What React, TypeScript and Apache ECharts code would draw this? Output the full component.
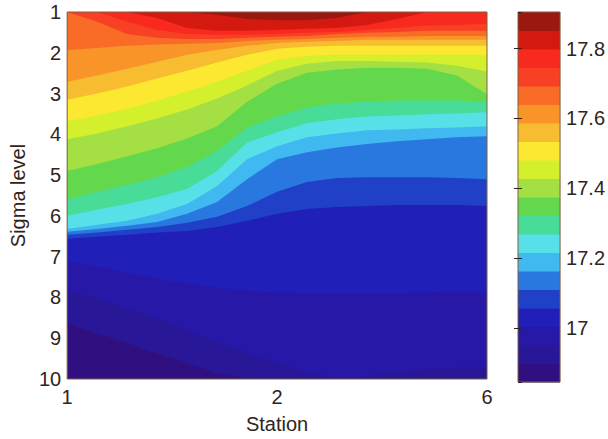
import React, { useEffect, useRef } from 'react';
import * as echarts from 'echarts';

// ---- axis ticks ----
const stationTickValues = [0, 7, 14];
const stationTickLabels = ['1', '2', '6'];
const columnX = [0, 1, 2, 3, 4, 5, 6, 7, 8, 9, 10, 11, 12, 13, 14];

// ---- contour levels (temperature) and band colours (jet) ----
const levelEdges = [
  16.845, 16.898, 16.951, 17.004, 17.057, 17.11, 17.163, 17.216, 17.269, 17.322, 17.375,
  17.428, 17.481, 17.534, 17.587, 17.64, 17.693, 17.746, 17.799, 17.852, 17.905,
];
const bandColors = [
  '#301080', '#281898', '#2818a8', '#2020b8', '#2040c8', '#2878e0', '#40b8f0', '#58e0e8',
  '#48dc98', '#64d84c', '#a4e044', '#d4f02c', '#fce830', '#f8bc30', '#f89428', '#f86c28',
  '#f84024', '#f82a20', '#d41a10', '#9a1810',
];

// ---- isotherm depths (sigma level) for each level edge, per column ----
const isoL1 = [8.63, 8.88, 9.12, 9.37, 9.61, 9.85, 10, 10, 10, 10, 10, 10, 10, 10, 10];
const isoL2 = [7.85, 8.02, 8.27, 8.51, 8.8, 9.1, 9.37, 9.61, 9.85, 9.98, 9.93, 9.83, 9.76, 9.73, 9.71];
const isoL3 = [7.12, 7.24, 7.39, 7.54, 7.66, 7.76, 7.83, 7.88, 7.9, 7.9, 7.9, 7.9, 7.88, 7.85, 7.85];
const isoL4 = [6.56, 6.51, 6.46, 6.41, 6.37, 6.27, 6.12, 5.95, 5.83, 5.78, 5.76, 5.73, 5.73, 5.73, 5.76];
const isoL5 = [6.46, 6.41, 6.34, 6.27, 6.17, 6.02, 5.76, 5.41, 5.17, 5.07, 5.05, 5.05, 5.05, 5.07, 5.1];
const isoL6 = [6.39, 6.32, 6.24, 6.15, 5.95, 5.66, 5.1, 4.61, 4.44, 4.32, 4.24, 4.17, 4.12, 4.07, 4.05];
const isoL7 = [6.32, 6.22, 6.12, 5.95, 5.71, 5.27, 4.61, 4.29, 4.07, 3.98, 3.9, 3.88, 3.85, 3.83, 3.8];
const isoL8 = [6.0, 5.85, 5.71, 5.54, 5.34, 4.9, 4.2, 3.95, 3.73, 3.63, 3.56, 3.54, 3.51, 3.49, 3.46];
const isoL9 = [5.59, 5.41, 5.24, 5.05, 4.8, 4.41, 3.83, 3.56, 3.34, 3.24, 3.2, 3.17, 3.17, 3.17, 3.2];
const isoL10 = [4.9, 4.73, 4.54, 4.34, 4.1, 3.8, 3.2, 2.76, 2.49, 2.41, 2.37, 2.37, 2.39, 2.56, 3.02];
const isoL11 = [4.12, 3.98, 3.8, 3.61, 3.39, 3.12, 2.8, 2.44, 2.27, 2.2, 2.2, 2.22, 2.24, 2.32, 2.46];
const isoL12 = [3.68, 3.54, 3.37, 3.17, 2.95, 2.71, 2.44, 2.17, 2.07, 2.05, 2.05, 2.05, 2.05, 2.05, 2.05];
const isoL13 = [3.15, 3.0, 2.83, 2.63, 2.44, 2.24, 2.05, 1.9, 1.85, 1.83, 1.83, 1.83, 1.83, 1.83, 1.83];
const isoL14 = [2.71, 2.56, 2.39, 2.22, 2.05, 1.93, 1.83, 1.76, 1.73, 1.71, 1.68, 1.68, 1.68, 1.68, 1.68];
const isoL15 = [1.93, 1.88, 1.83, 1.8, 1.78, 1.76, 1.71, 1.68, 1.66, 1.63, 1.61, 1.61, 1.59, 1.59, 1.59];
const isoL16 = [1.0, 1.24, 1.54, 1.63, 1.66, 1.66, 1.63, 1.61, 1.59, 1.54, 1.51, 1.49, 1.46, 1.46, 1.46];
const isoL17 = [1.0, 1.0, 1.24, 1.44, 1.54, 1.56, 1.56, 1.54, 1.51, 1.49, 1.44, 1.39, 1.34, 1.32, 1.29];
const isoL18 = [1.0, 1.0, 1.0, 1.15, 1.39, 1.46, 1.46, 1.44, 1.41, 1.39, 1.32, 1.17, 1.0, 1.0, 1.0];
const isoL19 = [1.0, 1.0, 1.0, 1.0, 1.0, 1.07, 1.17, 1.2, 1.2, 1.15, 1.0, 1.0, 1.0, 1.0, 1.0];

const isoDepths = [
  isoL1, isoL2, isoL3, isoL4, isoL5, isoL6, isoL7, isoL8, isoL9, isoL10,
  isoL11, isoL12, isoL13, isoL14, isoL15, isoL16, isoL17, isoL18, isoL19,
];

const FONT = '"Liberation Sans", Arial, Helvetica, sans-serif';
const TEXT = '#30241a';
const FRAME = '#7d6040';

export default function App() {
  const ref = useRef<HTMLDivElement>(null);

  useEffect(() => {
    if (!ref.current) return;
    const chart = echarts.init(ref.current, undefined, { renderer: 'svg' });

    const xMin = columnX[0];
    const xMax = columnX[columnX.length - 1];
    const bandData = bandColors.map((_, k) => [k, (levelEdges[k] + levelEdges[k + 1]) / 2]);

    const option: any = {
      animation: false,
      backgroundColor: '#ffffff',
      textStyle: { fontFamily: FONT, color: TEXT },
      grid: [
        { left: 67, top: 12, width: 420, height: 369, show: true, borderColor: FRAME, borderWidth: 1, backgroundColor: 'transparent', z: 10 },
        { left: 518, top: 12, width: 43, height: 370, show: true, borderColor: FRAME, borderWidth: 1, backgroundColor: 'transparent', z: 10 },
      ],
      visualMap: {
        type: 'piecewise',
        show: false,
        dimension: 1,
        seriesIndex: [0, 1],
        pieces: bandColors.map((c, k) => ({ gte: levelEdges[k], lt: levelEdges[k + 1], color: c })),
      },
      xAxis: [
        {
          gridIndex: 0,
          type: 'value',
          min: xMin,
          max: xMax,
          interval: 7,
          name: 'Station',
          nameLocation: 'middle',
          nameGap: 35,
          nameTextStyle: { fontSize: 20, color: TEXT, fontFamily: FONT },
          axisLine: { show: false },
          axisTick: { show: false },
          splitLine: { show: false },
          axisLabel: {
            fontSize: 20,
            color: TEXT,
            fontFamily: FONT,
            margin: 8,
            formatter: (v: number) => {
              const i = stationTickValues.indexOf(v);
              return i >= 0 ? stationTickLabels[i] : '';
            },
          },
        },
        { gridIndex: 1, type: 'value', min: 0, max: 1, show: false },
      ],
      yAxis: [
        {
          gridIndex: 0,
          type: 'value',
          inverse: true,
          min: 1,
          max: 10,
          interval: 1,
          name: 'Sigma level',
          nameLocation: 'middle',
          nameGap: 33,
          nameTextStyle: { fontSize: 20, color: TEXT, fontFamily: FONT },
          axisLine: { show: false },
          axisTick: { show: false },
          splitLine: { show: false },
          axisLabel: { fontSize: 20, color: TEXT, fontFamily: FONT, margin: 6 },
        },
        {
          gridIndex: 1,
          type: 'value',
          position: 'right',
          min: levelEdges[0],
          max: levelEdges[levelEdges.length - 1],
          splitNumber: 5,
          axisLine: { show: false },
          splitLine: { show: false },
          axisTick: { show: true, inside: true, length: 4, lineStyle: { color: TEXT } },
          axisLabel: { fontSize: 20, color: TEXT, fontFamily: FONT, margin: 6, showMinLabel: false, showMaxLabel: false },
          z: 12,
        },
        {
          gridIndex: 1,
          type: 'value',
          position: 'left',
          min: levelEdges[0],
          max: levelEdges[levelEdges.length - 1],
          splitNumber: 5,
          axisLine: { show: false },
          splitLine: { show: false },
          axisTick: { show: true, inside: true, length: 4, lineStyle: { color: TEXT } },
          axisLabel: { show: false },
          z: 12,
        },
      ],
      series: [
        {
          type: 'custom',
          xAxisIndex: 0,
          yAxisIndex: 0,
          clip: true,
          data: bandData,
          renderItem: (params: any, api: any) => {
            const k = api.value(0);
            let pts: number[][];
            if (k === 0) {
              pts = [api.coord([xMin, 1]), api.coord([xMax, 1]), api.coord([xMax, 10]), api.coord([xMin, 10])];
            } else {
              const row = isoDepths[k - 1];
              pts = row.map((s, i) => api.coord([columnX[i], s]));
              pts.push(api.coord([xMax, 1]), api.coord([xMin, 1]));
            }
            return { type: 'polygon', shape: { points: pts }, style: { fill: api.visual('color'), stroke: null } };
          },
        },
        {
          type: 'custom',
          xAxisIndex: 1,
          yAxisIndex: 1,
          data: bandData,
          renderItem: (params: any, api: any) => {
            const k = api.value(0);
            const p0 = api.coord([0, levelEdges[k + 1]]);
            const p1 = api.coord([1, levelEdges[k]]);
            return {
              type: 'rect',
              shape: { x: p0[0], y: p0[1], width: p1[0] - p0[0], height: p1[1] - p0[1] + 0.5 },
              style: { fill: api.visual('color'), stroke: null },
            };
          },
        },
      ],
    };

    chart.setOption(option);
    return () => chart.dispose();
  }, []);

  return <div ref={ref} style={{ position: 'fixed', left: 0, top: 0, width: 608, height: 439, background: '#fff' }} />;
}
